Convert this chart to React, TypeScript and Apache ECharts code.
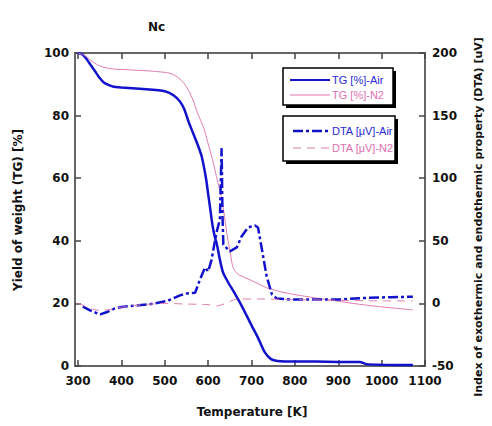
import React, { useEffect, useRef } from "react";
import * as echarts from "echarts";

// ---- data ----
const xTicks = [300, 400, 500, 600, 700, 800, 900, 1000, 1100];

const tgAirT = [300, 310, 320, 330, 340, 350, 360, 370, 380, 400, 450, 500, 520, 535, 545, 555, 565, 575, 585, 595, 600, 605, 610, 615, 620, 627, 634, 645, 660, 680, 700, 715, 730, 745, 760, 800, 850, 900, 950, 965, 1000, 1072];
const tgAir = [100, 99.5, 98, 96, 94, 92, 90.5, 89.8, 89.3, 89, 88.5, 87.8, 86.5, 84.5, 82, 78, 74.5, 71, 67, 60, 55, 50, 45, 41.5, 39, 34, 30, 27, 23.5, 18.5, 13, 9, 4.5, 2.2, 1.6, 1.4, 1.4, 1.3, 1.3, 0.6, 0.4, 0.3];

const tgN2T = [300, 310, 320, 330, 345, 360, 380, 420, 470, 510, 530, 545, 555, 565, 575, 590, 600, 610, 620, 632, 643, 650, 657, 665, 673, 700, 735, 765, 800, 850, 904, 950, 1000, 1072];
const tgN2 = [100, 99.5, 98.8, 97.6, 96.2, 95.4, 94.9, 94.6, 94.2, 93.6, 92.3, 90.2, 88, 85, 81, 76, 71, 66, 60, 53, 42.5, 37, 31.6, 29.8, 29, 27.3, 25, 23.8, 22.8, 21.7, 20.6, 19.7, 18.9, 17.9];

const dtaAirT = [311, 330, 351, 367, 385, 404, 440, 473, 505, 520, 535, 551, 570, 581, 593, 600, 608, 615, 620, 627, 629, 631, 632, 633, 635, 650, 666, 677, 692, 700, 708, 715, 724, 735, 747, 758, 789, 841, 904, 957, 1019, 1072];
const dtaAir = [-2.6, -6, -8.8, -6.9, -4, -2.6, -1.5, -0.3, 1.9, 4, 6.4, 8, 8.5, 19, 28.7, 25.5, 35, 48.7, 57.5, 67, 95, 124, 100, 72, 47, 41.5, 44.7, 53.5, 60.6, 61.5, 62.2, 60.6, 43, 21.5, 7.2, 4, 3.2, 3.2, 3.2, 4.3, 5, 5.3];

const dtaN2T = [300, 315, 330, 350, 370, 400, 450, 500, 550, 600, 620, 640, 660, 680, 720, 800, 900, 1000, 1072];
const dtaN2 = [0, -2, -4.5, -5.5, -5, -3, -1, 0, -0.5, -1, -2, 0, 3, 3.5, 3.5, 3, 2.5, 2, 2];

const legendTG = ["TG [%]-Air", "TG [%]-N2"];
const legendDTA = ["DTA [\u03bcV]-Air", "DTA [\u03bcV]-N2"];

const BLUE = "#1212cc";
const PINK = "#e07aae";

const pairs = (xs: number[], ys: number[]) => xs.map((x, i) => [x, ys[i]]);

const axisFont = { color: "#111", fontFamily: "DejaVu Sans", fontWeight: "bold" as const, fontSize: 12 };
const frameLine = { onZero: false, lineStyle: { color: "#666", width: 2 } };
const tickStyle = { color: "#444", width: 1.5 };

export default function App() {
  const ref = useRef<HTMLDivElement>(null);
  useEffect(() => {
    if (!ref.current) return;
    const chart = echarts.init(ref.current, null, { renderer: "svg" });
    const option: any = {
      animation: false,
      backgroundColor: "#fff",
      grid: { left: 75, right: 67, top: 53, bottom: 60 },
      xAxis: [
        {
          type: "value", min: 293, max: 1100, position: "bottom",
          axisLine: frameLine,
          axisTick: { inside: true, length: 6, customValues: xTicks, lineStyle: tickStyle },
          axisLabel: { customValues: xTicks, margin: 9, formatter: (v: number) => String(v), ...axisFont },
          splitLine: { show: false },
        },
        {
          type: "value", min: 293, max: 1100, position: "top",
          axisLine: frameLine,
          axisTick: { inside: true, length: 6, customValues: xTicks, lineStyle: tickStyle },
          axisLabel: { show: false },
          splitLine: { show: false },
        },
      ],
      yAxis: [
        {
          type: "value", min: 0, max: 100, interval: 20, position: "left",
          axisLine: { show: true, ...frameLine },
          axisTick: { show: true, inside: true, length: 6, lineStyle: tickStyle },
          axisLabel: { margin: 6, ...axisFont },
          splitLine: { show: false },
        },
        {
          type: "value", min: -50, max: 200, interval: 50, position: "right",
          axisLine: { show: true, ...frameLine },
          axisTick: { show: true, inside: true, length: 6, lineStyle: tickStyle },
          axisLabel: { margin: 7, ...axisFont },
          splitLine: { show: false },
        },
      ],
      series: [
        {
          name: legendTG[0], type: "line", xAxisIndex: 0, yAxisIndex: 0, showSymbol: false,
          data: pairs(tgAirT, tgAir), lineStyle: { color: BLUE, width: 2.5 }, smooth: 0.2,
        },
        {
          name: legendTG[1], type: "line", xAxisIndex: 0, yAxisIndex: 0, showSymbol: false,
          data: pairs(tgN2T, tgN2), lineStyle: { color: PINK, width: 1 }, smooth: 0.2,
        },
        {
          name: legendDTA[0], type: "line", xAxisIndex: 0, yAxisIndex: 1, showSymbol: false,
          data: pairs(dtaAirT, dtaAir), lineStyle: { color: BLUE, width: 2.5, type: [10, 3, 3, 3] },
        },
        {
          name: legendDTA[1], type: "line", xAxisIndex: 0, yAxisIndex: 1, showSymbol: false,
          data: pairs(dtaN2T, dtaN2), lineStyle: { color: PINK, width: 1, type: [8, 6] }, smooth: 0.2,
        },
      ],
      graphic: [
        { type: "text", left: 148, top: 21, style: { text: "Nc", fill: "#111", font: "bold 12px 'DejaVu Sans'" } },
        {
          type: "text", x: 18, y: 210, rotation: Math.PI / 2,
          style: { text: "Yield of weight (TG) [%]", fill: "#111", font: "bold 12px 'DejaVu Sans'", align: "center", verticalAlign: "middle" },
        },
        {
          type: "text", x: 478, y: 217, rotation: Math.PI / 2,
          style: { text: "Index of exothermic and endothermic property (DTA) [uV]", fill: "#111", font: "bold 11px 'DejaVu Sans'", align: "center", verticalAlign: "middle" },
        },
        {
          type: "text", x: 252, y: 412,
          style: { text: "Temperature [K]", fill: "#111", font: "bold 12px 'DejaVu Sans'", align: "center", verticalAlign: "middle" },
        },
        // legend box 1
        { type: "rect", shape: { x: 286, y: 71, width: 110, height: 37 }, style: { fill: "#000" } },
        { type: "rect", shape: { x: 283, y: 68, width: 110, height: 37 }, style: { fill: "#fff", stroke: "#000", lineWidth: 1.5 } },
        { type: "line", shape: { x1: 290, y1: 80, x2: 330, y2: 80 }, style: { stroke: BLUE, lineWidth: 2 } },
        { type: "text", x: 332, y: 80, style: { text: legendTG[0], fill: "#2a2ad8", font: "11px 'Liberation Sans'", verticalAlign: "middle" } },
        { type: "line", shape: { x1: 290, y1: 95, x2: 330, y2: 95 }, style: { stroke: PINK, lineWidth: 1 } },
        { type: "text", x: 332, y: 95, style: { text: legendTG[1], fill: "#e070b0", font: "11px 'Liberation Sans'", verticalAlign: "middle" } },
        // legend box 2
        { type: "rect", shape: { x: 286, y: 119, width: 112, height: 45 }, style: { fill: "#000" } },
        { type: "rect", shape: { x: 283, y: 116, width: 112, height: 45 }, style: { fill: "#fff", stroke: "#000", lineWidth: 1.5 } },
        { type: "line", shape: { x1: 293, y1: 131, x2: 330, y2: 131 }, style: { stroke: BLUE, lineWidth: 2.5, lineDash: [10, 3, 3, 3] } },
        { type: "text", x: 332, y: 131, style: { text: legendDTA[0], fill: "#2a2ad8", font: "11px 'Liberation Sans'", verticalAlign: "middle" } },
        { type: "line", shape: { x1: 293, y1: 148, x2: 330, y2: 148 }, style: { stroke: PINK, lineWidth: 1, lineDash: [8, 6] } },
        { type: "text", x: 332, y: 148, style: { text: legendDTA[1], fill: "#e070b0", font: "11px 'Liberation Sans'", verticalAlign: "middle" } },
      ],
    };
    chart.setOption(option);
    return () => chart.dispose();
  }, []);
  return <div ref={ref} style={{ position: "fixed", left: 0, top: 0, width: 492, height: 426, background: "#fff" }} />;
}
